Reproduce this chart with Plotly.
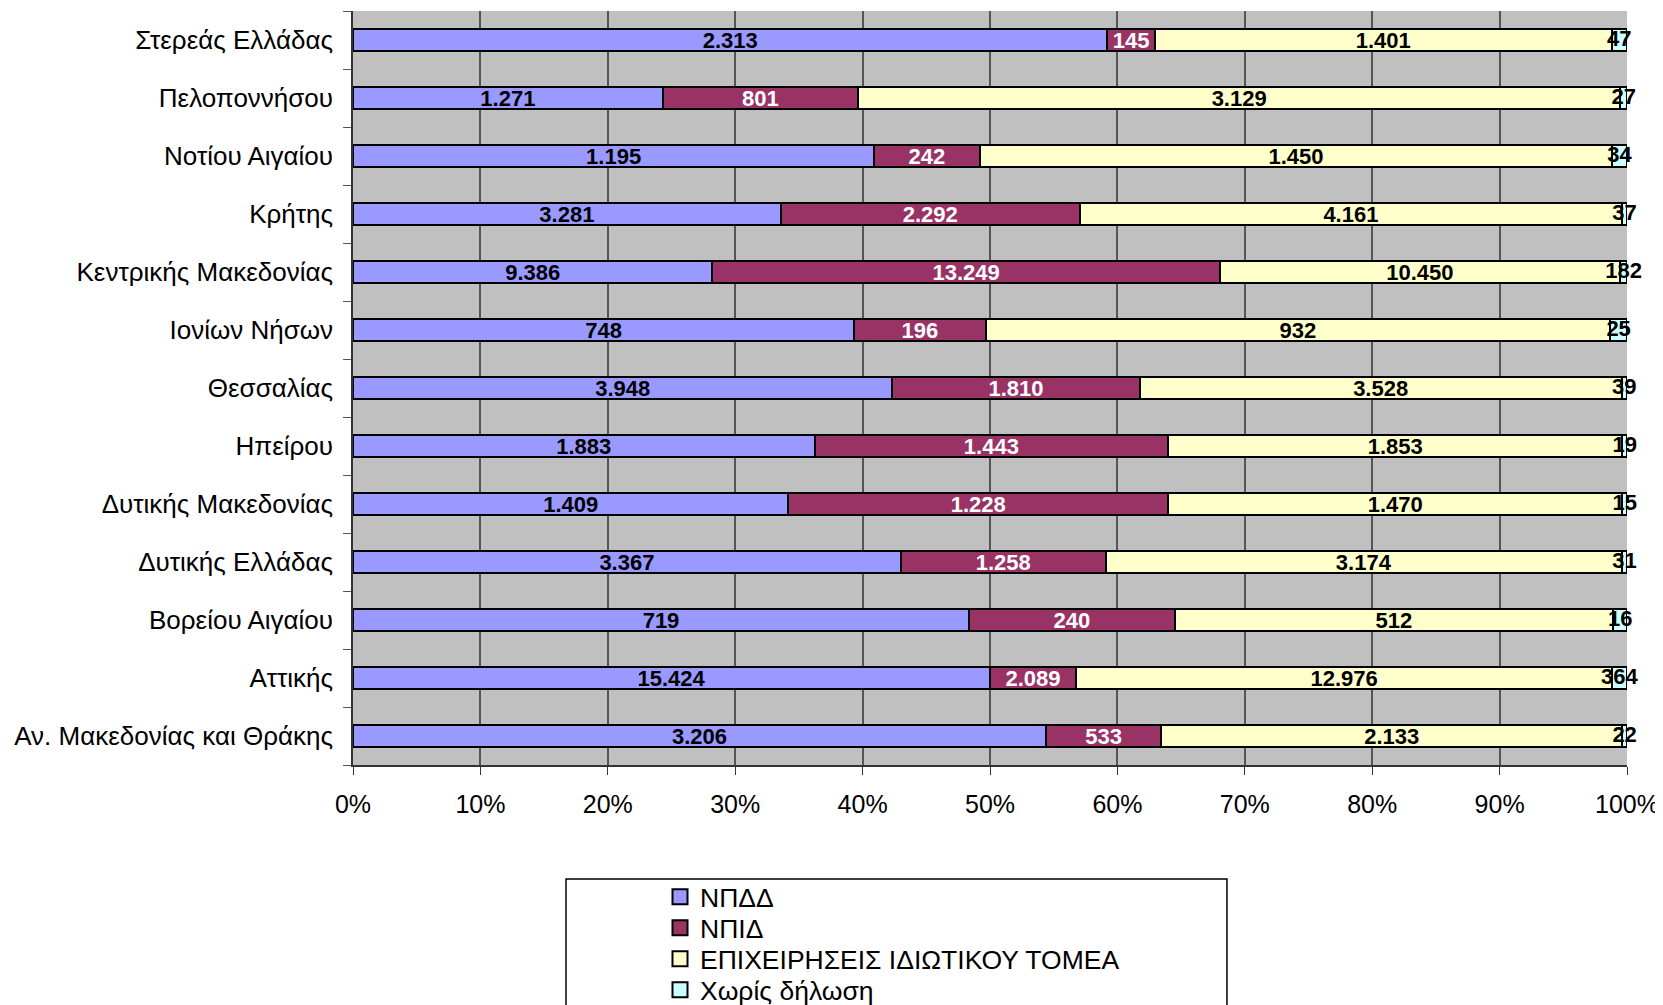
import plotly.graph_objects as go

regions = [
    "Αν. Μακεδονίας και Θράκης", "Αττικής", "Βορείου Αιγαίου", "Δυτικής Ελλάδας",
    "Δυτικής Μακεδονίας", "Ηπείρου", "Θεσσαλίας", "Ιονίων Νήσων",
    "Κεντρικής Μακεδονίας", "Κρήτης", "Νοτίου Αιγαίου", "Πελοποννήσου",
    "Στερεάς Ελλάδας",
]
npdd = [3206, 15424, 719, 3367, 1409, 1883, 3948, 748, 9386, 3281, 1195, 1271, 2313]
npid = [533, 2089, 240, 1258, 1228, 1443, 1810, 196, 13249, 2292, 242, 801, 145]
private = [2133, 12976, 512, 3174, 1470, 1853, 3528, 932, 10450, 4161, 1450, 3129, 1401]
no_decl = [22, 364, 16, 31, 15, 19, 39, 25, 182, 37, 34, 27, 47]

series_names = ["ΝΠΔΔ", "ΝΠΙΔ", "ΕΠΙΧΕΙΡΗΣΕΙΣ ΙΔΙΩΤΙΚΟΥ ΤΟΜΕΑ", "Χωρίς δήλωση"]
series_values = [npdd, npid, private, no_decl]
colors = ["#9999FF", "#993366", "#FFFFCC", "#CCFFFF"]
text_colors = ["black", "white", "black", "black"]
x_ticks = list(range(0, 101, 10))

# page body adds an 8px margin, so the figure is 8px smaller and shifted
W, H = 1655, 997
legend_centers_px = [889, 920, 951, 982]


def fmt(v):
    return f"{v:,}".replace(",", ".")


totals = [sum(t) for t in zip(*series_values)]

fig = go.Figure()
for i, (name, vals, col, tcol) in enumerate(zip(series_names, series_values, colors, text_colors)):
    last = i == len(series_values) - 1
    fig.add_trace(go.Bar(
        y=regions, x=vals, name=name, orientation="h", showlegend=False,
        marker=dict(color=col, line=dict(color="black", width=2)),
        text=None if last else [fmt(v) for v in vals],
        textposition="inside", textangle=0,
        insidetextanchor="middle", constraintext="none",
        textfont=dict(family="Arial", size=22, color=tcol),
        texttemplate=None if last else "<b>%{text}</b>",
        cliponaxis=False,
    ))

# labels of the thin last segment, centred on it (positions from the data)
before = [sum(s[k] for s in series_values[:-1]) for k in range(len(regions))]
mid_pct = [(b + v / 2) / t * 100 for b, v, t in zip(before, no_decl, totals)]
fig.add_trace(go.Scatter(
    y=regions, x=mid_pct, mode="text", text=[f"<b>{fmt(v)}</b>" for v in no_decl],
    textposition="middle center", textfont=dict(family="Arial", size=22, color="black"),
    showlegend=False, hoverinfo="skip", cliponaxis=False,
))

# legend entries (square swatches with black outline)
for i, (name, col) in enumerate(zip(series_names, colors)):
    lg = "legend" if i == 0 else f"legend{i + 1}"
    fig.add_trace(go.Scatter(
        x=[None], y=[None], mode="markers", name=name, legend=lg,
        marker=dict(symbol="square", size=15, color=col, line=dict(color="black", width=2)),
        hoverinfo="skip",
    ))

legend_base = dict(
    xref="container", yref="container", x=652 / W, xanchor="left", yanchor="middle",
    bgcolor="rgba(0,0,0,0)", borderwidth=0, itemwidth=30,
    font=dict(family="Arial", size=26.5, color="black"),
)
legends = {}
for i, c in enumerate(legend_centers_px):
    key = "legend" if i == 0 else f"legend{i + 1}"
    legends[key] = dict(legend_base, y=1 - c / H)

fig.update_layout(
    barmode="stack", barnorm="percent", bargap=0.62,
    width=W, height=H,
    margin=dict(l=345, r=36, t=3, b=240, autoexpand=False),
    paper_bgcolor="white", plot_bgcolor="#C0C0C0",
    font=dict(family="Arial", size=25, color="black"),
    showlegend=True,
    shapes=[dict(type="rect", xref="paper", yref="paper",
                 x0=0.1672, x1=0.686, y0=-0.1512, y1=-0.4,
                 line=dict(color="black", width=1.5), fillcolor="rgba(0,0,0,0)",
                 layer="below")],
    **legends,
)
fig.update_xaxes(
    range=[0, 100], tickvals=x_ticks, ticktext=[f"{t}%" for t in x_ticks],
    showgrid=True, gridcolor="#555555", gridwidth=1.5,
    ticks="outside", ticklen=8, tickcolor="#333333",
    showline=True, linecolor="#333333", linewidth=1.5,
    tickfont=dict(family="Arial", size=25, color="black"),
    ticklabelstandoff=8,
    zeroline=False, fixedrange=True,
)
fig.update_yaxes(
    categoryorder="array", categoryarray=regions,
    range=[-0.5, len(regions) - 0.5], autorange=False,
    tickson="boundaries", ticks="outside", ticklen=8, tickcolor="#555555",
    showline=True, linecolor="#333333", linewidth=1.5, showgrid=False,
    tickfont=dict(family="Arial", size=26, color="black"),
    ticklabelstandoff=13,
)

fig.write_html("out.html")
